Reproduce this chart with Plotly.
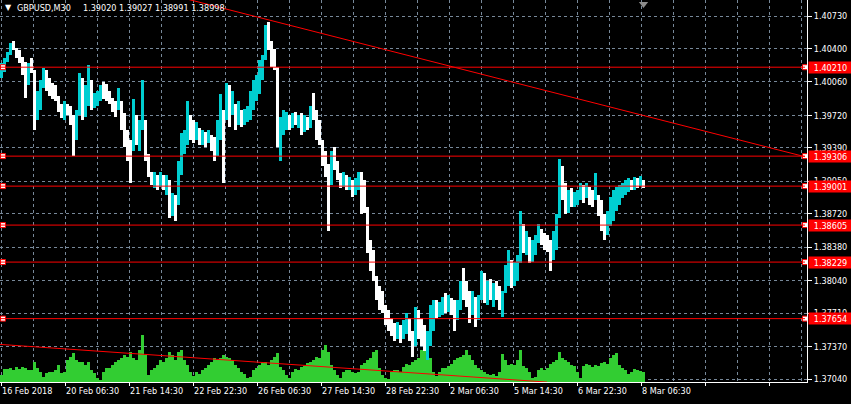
import plotly.graph_objects as go

# ---------------- data (GBPUSD M30, each column = 3 M30 bars) ----------------
first_open = 1.4015
high = [
    1.4025, 1.4030, 1.4036, 1.4046, 1.4048, 1.4041, 1.4038, 1.4031, 1.4026, 1.4025,
    1.4030, 1.4018, 1.3997, 1.4008, 1.4020, 1.4018, 1.4010, 1.4005, 1.4003, 1.3992,
    1.3984, 1.3987, 1.3984, 1.3982, 1.3972, 1.3977, 1.4015, 1.4010, 1.4003, 1.4023,
    1.4008, 1.3995, 1.3997, 1.4003, 1.4006, 1.4004, 1.3997, 1.3990, 1.3987, 1.4000,
    1.3987, 1.3974, 1.3957, 1.3947, 1.3989, 1.3972, 1.3967, 1.4008, 1.3967, 1.3933,
    1.3914, 1.3914, 1.3911, 1.3914, 1.3911, 1.3911, 1.3906, 1.3893, 1.3891, 1.3926,
    1.3954, 1.3957, 1.3987, 1.3972, 1.3967, 1.3965, 1.3959, 1.3957, 1.3955, 1.3957,
    1.3952, 1.3950, 1.3967, 1.3994, 1.3977, 1.4005, 1.4003, 1.3997, 1.3984, 1.3987,
    1.3977, 1.3979, 1.3982, 1.3997, 1.4008, 1.4013, 1.4028, 1.4033, 1.4064, 1.4067,
    1.4048, 1.4040, 1.4021, 1.3970, 1.3977, 1.3975, 1.3972, 1.3974, 1.3975, 1.3972,
    1.3974, 1.3972, 1.3970, 1.3982, 1.3995, 1.3977, 1.3967, 1.3947, 1.3936, 1.3923,
    1.3936, 1.3940, 1.3926, 1.3913, 1.3914, 1.3911, 1.3909, 1.3906, 1.3908, 1.3914,
    1.3914, 1.3906, 1.3879, 1.3845, 1.3835, 1.3809, 1.3799, 1.3794, 1.3779, 1.3774,
    1.3766, 1.3761, 1.3762, 1.3759, 1.3764, 1.3771, 1.3766, 1.3753, 1.3777, 1.3774,
    1.3766, 1.3759, 1.3753, 1.3779, 1.3784, 1.3784, 1.3782, 1.3787, 1.3791, 1.3789,
    1.3786, 1.3784, 1.3784, 1.3804, 1.3817, 1.3804, 1.3794, 1.3794, 1.3787, 1.3789,
    1.3814, 1.3812, 1.3804, 1.3806, 1.3802, 1.3804, 1.3799, 1.3794, 1.3820, 1.3835,
    1.3825, 1.3823, 1.3830, 1.3875, 1.3862, 1.3855, 1.3848, 1.3845, 1.3850, 1.3862,
    1.3857, 1.3852, 1.3850, 1.3845, 1.3855, 1.3872, 1.3928, 1.3921, 1.3903, 1.3896,
    1.3898, 1.3894, 1.3896, 1.3903, 1.3901, 1.3903, 1.3899, 1.3896, 1.3913, 1.3891,
    1.3886, 1.3872, 1.3875, 1.3889, 1.3896, 1.3899, 1.3901, 1.3903, 1.3906, 1.3908,
    1.3906, 1.3909, 1.3908, 1.3910, 1.3906,
]
low = [
    1.4010, 1.4016, 1.4026, 1.4033, 1.4038, 1.4030, 1.4025, 1.4013, 1.3990, 1.4003,
    1.4015, 1.3957, 1.3967, 1.3977, 1.4000, 1.3997, 1.3992, 1.3989, 1.3987, 1.3975,
    1.3969, 1.3967, 1.3972, 1.3962, 1.3931, 1.3947, 1.3972, 1.3967, 1.3970, 1.3982,
    1.3977, 1.3980, 1.3982, 1.3987, 1.3989, 1.3987, 1.3984, 1.3975, 1.3970, 1.3977,
    1.3957, 1.3940, 1.3926, 1.3903, 1.3936, 1.3942, 1.3936, 1.3957, 1.3926, 1.3909,
    1.3901, 1.3898, 1.3896, 1.3899, 1.3896, 1.3891, 1.3868, 1.3870, 1.3865, 1.3881,
    1.3911, 1.3933, 1.3942, 1.3947, 1.3944, 1.3947, 1.3942, 1.3942, 1.3940, 1.3944,
    1.3936, 1.3926, 1.3931, 1.3947, 1.3903, 1.3967, 1.3960, 1.3972, 1.3957, 1.3962,
    1.3960, 1.3962, 1.3965, 1.3967, 1.3977, 1.3987, 1.3994, 1.4008, 1.4028, 1.4038,
    1.4021, 1.4018, 1.3940, 1.3926, 1.3952, 1.3957, 1.3957, 1.3959, 1.3962, 1.3959,
    1.3952, 1.3955, 1.3957, 1.3959, 1.3967, 1.3947, 1.3942, 1.3921, 1.3909, 1.3855,
    1.3901, 1.3916, 1.3906, 1.3898, 1.3899, 1.3896, 1.3896, 1.3889, 1.3891, 1.3896,
    1.3872, 1.3873, 1.3832, 1.3814, 1.3804, 1.3784, 1.3774, 1.3771, 1.3759, 1.3753,
    1.3748, 1.3743, 1.3745, 1.3741, 1.3745, 1.3750, 1.3743, 1.3726, 1.3738, 1.3745,
    1.3738, 1.3733, 1.3723, 1.3738, 1.3753, 1.3766, 1.3767, 1.3769, 1.3771, 1.3772,
    1.3769, 1.3753, 1.3764, 1.3774, 1.3784, 1.3777, 1.3761, 1.3769, 1.3757, 1.3764,
    1.3784, 1.3781, 1.3779, 1.3784, 1.3777, 1.3784, 1.3774, 1.3767, 1.3791, 1.3799,
    1.3797, 1.3799, 1.3804, 1.3822, 1.3832, 1.3830, 1.3822, 1.3823, 1.3830, 1.3842,
    1.3840, 1.3835, 1.3833, 1.3814, 1.3825, 1.3835, 1.3868, 1.3886, 1.3872, 1.3873,
    1.3879, 1.3879, 1.3881, 1.3886, 1.3883, 1.3888, 1.3881, 1.3879, 1.3886, 1.3870,
    1.3855, 1.3845, 1.3850, 1.3860, 1.3865, 1.3875, 1.3881, 1.3888, 1.3891, 1.3894,
    1.3896, 1.3896, 1.3898, 1.3900, 1.3898,
]
close = [
    1.4018, 1.4028, 1.4034, 1.4043, 1.4040, 1.4033, 1.4028, 1.4018, 1.4008, 1.4022,
    1.4020, 1.3977, 1.3987, 1.4003, 1.4013, 1.4003, 1.4000, 1.3995, 1.3990, 1.3979,
    1.3977, 1.3981, 1.3975, 1.3967, 1.3957, 1.3972, 1.4003, 1.3987, 1.3992, 1.3997,
    1.3987, 1.3989, 1.3992, 1.3997, 1.3995, 1.3992, 1.3987, 1.3979, 1.3977, 1.3982,
    1.3967, 1.3947, 1.3936, 1.3926, 1.3967, 1.3952, 1.3962, 1.3967, 1.3931, 1.3914,
    1.3906, 1.3908, 1.3901, 1.3906, 1.3898, 1.3901, 1.3881, 1.3886, 1.3875, 1.3911,
    1.3942, 1.3947, 1.3962, 1.3957, 1.3952, 1.3957, 1.3949, 1.3952, 1.3947, 1.3949,
    1.3942, 1.3936, 1.3957, 1.3977, 1.3967, 1.3992, 1.3972, 1.3982, 1.3967, 1.3977,
    1.3967, 1.3972, 1.3977, 1.3987, 1.3997, 1.4008, 1.4018, 1.4028, 1.4053, 1.4043,
    1.4033, 1.4020, 1.3957, 1.3962, 1.3967, 1.3969, 1.3962, 1.3969, 1.3967, 1.3969,
    1.3957, 1.3967, 1.3962, 1.3977, 1.3972, 1.3952, 1.3947, 1.3928, 1.3916, 1.3906,
    1.3926, 1.3921, 1.3911, 1.3906, 1.3908, 1.3901, 1.3904, 1.3896, 1.3901, 1.3908,
    1.3886, 1.3878, 1.3840, 1.3823, 1.3809, 1.3789, 1.3784, 1.3776, 1.3764, 1.3759,
    1.3753, 1.3748, 1.3756, 1.3748, 1.3759, 1.3764, 1.3748, 1.3743, 1.3769, 1.3753,
    1.3748, 1.3743, 1.3748, 1.3774, 1.3779, 1.3774, 1.3776, 1.3784, 1.3779, 1.3784,
    1.3774, 1.3764, 1.3779, 1.3799, 1.3794, 1.3784, 1.3769, 1.3784, 1.3764, 1.3784,
    1.3804, 1.3789, 1.3794, 1.3789, 1.3794, 1.3789, 1.3779, 1.3784, 1.3814, 1.3820,
    1.3809, 1.3814, 1.3820, 1.3845, 1.3840, 1.3845, 1.3830, 1.3840, 1.3847, 1.3855,
    1.3845, 1.3840, 1.3837, 1.3823, 1.3845, 1.3865, 1.3906, 1.3891, 1.3881, 1.3891,
    1.3886, 1.3888, 1.3891, 1.3896, 1.3891, 1.3898, 1.3891, 1.3886, 1.3891, 1.3875,
    1.3863, 1.3860, 1.3870, 1.3881, 1.3891, 1.3894, 1.3896, 1.3898, 1.3901, 1.3904,
    1.3901, 1.3906, 1.3903, 1.3906, 1.3900,
]
volume = [
    420, 780, 780, 840, 720, 900, 780, 900, 840, 720,
    720, 1200, 840, 600, 300, 540, 600, 600, 720, 1020,
    540, 600, 1320, 1500, 1740, 1320, 1200, 1200, 1020, 1200,
    720, 540, 240, 120, 600, 840, 840, 1020, 1200, 1320,
    1440, 1620, 1500, 1800, 1440, 1320, 1920, 2820, 1620, 420,
    720, 840, 1020, 1320, 1200, 1440, 1800, 1620, 1320, 1800,
    1920, 1320, 1020, 600, 360, 600, 480, 720, 840, 1020,
    1200, 1440, 1320, 1440, 1620, 1500, 1440, 1320, 1020, 840,
    600, 480, 240, 300, 720, 840, 1020, 1140, 1200, 1020,
    1320, 1500, 1740, 900, 720, 420, 240, 600, 780, 720,
    900, 960, 1140, 1200, 1320, 1500, 1440, 1920, 2220, 1800,
    1020, 720, 420, 240, 600, 720, 720, 600, 540, 600,
    1020, 1140, 1320, 1440, 1800, 1920, 840, 420, 240, 180,
    600, 720, 720, 600, 900, 1080, 1020, 1200, 1320, 1440,
    1920, 2220, 1800, 1440, 600, 360, 600, 840, 840, 960,
    1080, 1320, 1440, 1500, 1620, 1920, 1620, 1320, 1020, 840,
    720, 600, 480, 420, 480, 360, 600, 1680, 1320, 1020,
    1080, 1020, 1320, 1920, 960, 840, 600, 240, 300, 720,
    840, 720, 840, 1080, 1200, 1320, 1800, 1440, 1320, 1200,
    1020, 960, 600, 240, 960, 1080, 1020, 900, 1020, 960,
    1140, 1200, 1080, 1440, 1620, 1740, 1020, 840, 720, 480,
    600, 780, 720, 660, 600,
]

tick_bars = [1, 65, 129, 193, 257, 321, 385, 449, 513, 577, 641]
tick_labels = ["16 Feb 2018", "20 Feb 06:30", "21 Feb 14:30", "22 Feb 22:30",
               "26 Feb 06:30", "27 Feb 14:30", "28 Feb 22:30", "2 Mar 06:30",
               "5 Mar 14:30", "6 Mar 22:30", "8 Mar 06:30"]
price_ticks = [1.40730, 1.40400, 1.40060, 1.39720, 1.39390, 1.39050,
               1.38720, 1.38380, 1.38040, 1.37710, 1.37370, 1.37040]
levels = [1.40210, 1.39306, 1.39001, 1.38605, 1.38229, 1.37654]
trend_top = [(188, 1.40900), (805, 1.39300)]
trend_bottom = [(0, 1.37392), (547, 1.37009)]
title_symbol = "GBPUSD,M30"
title_ohlc = "1.39020 1.39027 1.38991 1.38998"

# ---------------- styling ----------------
GROUP = 3            # M30 bars per drawn column
X_MAX = 807
Y_MIN, Y_MAX = 1.37010, 1.40893
VOL_MAX = 22920
CYAN = "#00ced1"
WHITE = "#ffffff"
GREEN = "#32cd32"
GRID = "#778899"
RED = "#ff0000"
FONT = "DejaVu Sans Condensed, DejaVu Serif"
FS = 9

n = len(high)
xc = [GROUP * i + GROUP / 2 for i in range(n)]
opens = [first_open] + close[:-1]
colors = [CYAN if c >= o else WHITE for o, c in zip(opens, close)]
rng = [h - l for h, l in zip(high, low)]

fig = go.Figure()
fig.add_trace(go.Bar(x=xc, y=volume, width=GROUP, marker=dict(color=GREEN, line=dict(width=0)),
                     yaxis="y", hoverinfo="skip"))
fig.add_trace(go.Bar(x=xc, y=rng, base=low, width=GROUP,
                     marker=dict(color=colors, line=dict(width=0)),
                     yaxis="y2", hoverinfo="skip"))

# object anchor markers
fig.add_trace(go.Scatter(x=[3] * len(levels) + [805] * len(levels), y=levels + levels,
                         mode="markers", yaxis="y2", cliponaxis=False,
                         marker=dict(symbol="square", size=5, color="white",
                                     line=dict(color=RED, width=1)), hoverinfo="skip"))
# chart shift marker
fig.add_trace(go.Scatter(x=[643.5], y=[Y_MAX - 0.0004], mode="markers", yaxis="y2",
                         cliponaxis=False,
                         marker=dict(symbol="triangle-down", size=8, color="#8c8c8c"),
                         hoverinfo="skip"))

shapes = []
for lv in levels:
    shapes.append(dict(type="line", xref="x", yref="y2", x0=0, x1=805, y0=lv, y1=lv,
                       line=dict(color=RED, width=1), layer="above"))
for (a, b) in (trend_top, trend_bottom):
    shapes.append(dict(type="line", xref="x", yref="y2", x0=a[0], y0=a[1], x1=b[0], y1=b[1],
                       line=dict(color=RED, width=1), layer="above"))

annotations = []
for tb, tl in zip(tick_bars, tick_labels):
    annotations.append(dict(x=tb, xref="x", y=0, yref="paper", text=tl, showarrow=False,
                            xanchor="left", yanchor="top", yshift=-3, borderpad=0,
                            font=dict(family=FONT, size=FS, color="white")))
for lv in levels:
    annotations.append(dict(x=1, xref="paper", y=lv, yref="y2", text=f"{lv:.5f}",
                            showarrow=False, xanchor="left", yanchor="middle", xshift=1,
                            width=43, height=11, borderpad=0, align="center",
                            bgcolor=RED, font=dict(family=FONT, size=FS, color="white")))
annotations.append(dict(x=0, xref="paper", y=1, yref="paper", text="▼", showarrow=False,
                        xanchor="left", yanchor="top", xshift=3, yshift=-1,
                        font=dict(family="DejaVu Sans", size=8, color="white")))
annotations.append(dict(x=0, xref="paper", y=1, yref="paper", text=title_symbol,
                        showarrow=False, xanchor="left", yanchor="top", xshift=15, yshift=-1,
                        font=dict(family=FONT, size=FS, color="white")))
annotations.append(dict(x=0, xref="paper", y=1, yref="paper", text=title_ohlc,
                        showarrow=False, xanchor="left", yanchor="top", xshift=81, yshift=-1,
                        font=dict(family=FONT, size=FS, color="white")))

fig.update_layout(
    width=851, height=404, margin=dict(l=0, r=44, t=0, b=22),
    paper_bgcolor="#000000", plot_bgcolor="#000000",
    showlegend=False, barmode="overlay", bargap=0,
    shapes=shapes, annotations=annotations,
    xaxis=dict(range=[0, X_MAX], tickmode="linear", tick0=tick_bars[0] + 0.5, dtick=64,
               showticklabels=False, ticks="outside", ticklen=3, tickcolor="white",
               showline=True, linecolor="white", linewidth=1, zeroline=False,
               showgrid=True, gridcolor=GRID, gridwidth=1, griddash="3px,3px",
               minor=dict(tick0=tick_bars[0] + 0.5, dtick=32, showgrid=True, gridcolor=GRID,
                          griddash="3px,3px", gridwidth=1, ticks=""),
               automargin=False, fixedrange=True),
    yaxis=dict(range=[0, VOL_MAX], visible=False, fixedrange=True),
    yaxis2=dict(range=[Y_MIN, Y_MAX], overlaying="y", side="right", anchor="x",
                tickmode="array", tickvals=price_ticks,
                ticktext=[f"{t:.5f}" for t in price_ticks],
                ticks="outside", ticklen=4, tickcolor="white",
                tickfont=dict(family=FONT, size=FS, color="white"),
                showline=True, linecolor="white", linewidth=1, zeroline=False,
                showgrid=True, gridcolor=GRID, gridwidth=1, griddash="3px,3px",
                automargin=False, fixedrange=True),
)

fig.write_html("out.html", config={"displayModeBar": False},
               post_script="document.body.style.margin='0px';document.body.style.background='#000';")
